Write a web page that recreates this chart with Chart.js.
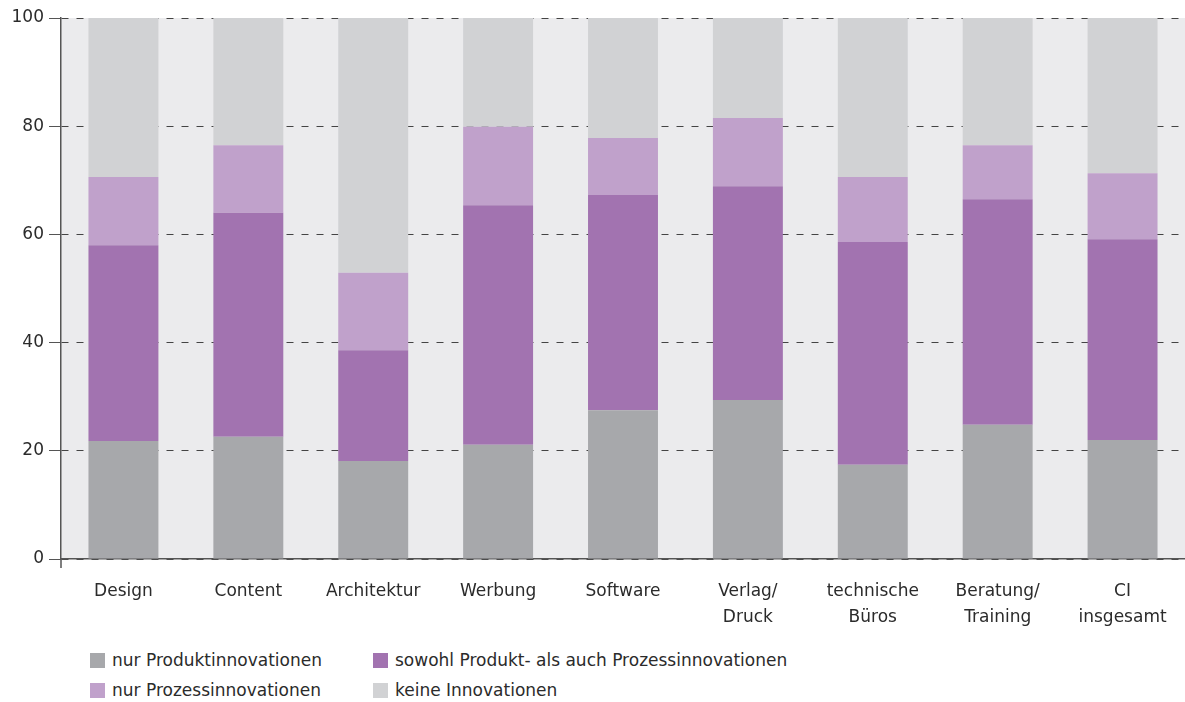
<!DOCTYPE html>
<html>
<head>
<meta charset="utf-8">
<script src="https://cdn.jsdelivr.net/npm/chart.js@4"></script>
<style>
  body { margin:0; background:#fff; font-family:"DejaVu Sans", sans-serif; }
  #wrap { position:relative; width:1185px; height:702px; }
  #chartBox { position:absolute; left:0; top:0; width:1185px; height:640px; }
  .legend { position:absolute; font-size:17px; color:#2b2b2b; display:flex; align-items:center; white-space:nowrap; }
  .legend i { display:inline-block; width:15px; height:15px; margin-right:7px; }
</style>
</head>
<body>
<div id="wrap">
  <div id="chartBox"><canvas id="innoChart"></canvas></div>
  <div id="legendBox"></div>
</div>
<script>
// ============ DATA ============
const categories = [['Design'], ['Content'], ['Architektur'], ['Werbung'], ['Software'], ['Verlag/', 'Druck'], ['technische', 'Büros'], ['Beratung/', 'Training'], ['CI', 'insgesamt']];
const seriesNames = ['nur Produktinnovationen', 'sowohl Produkt- als auch Prozessinnovationen', 'nur Prozessinnovationen', 'keine Innovationen'];
const nurProdukt = [21.8, 22.6, 18.1, 21.1, 27.5, 29.4, 17.4, 24.8, 22.0];
const sowohl     = [36.2, 41.4, 20.5, 44.3, 39.8, 39.5, 41.2, 41.7, 37.1];
const nurProzess = [12.6, 12.5, 14.3, 14.5, 10.5, 12.6, 12.0, 10.0, 12.2];
const keine      = [29.4, 23.5, 47.1, 20.1, 22.2, 18.5, 29.4, 23.5, 28.7];
const yTicks = [0, 20, 40, 60, 80, 100];

const colors = ['#a7a8ab', '#a273b0', '#c0a1cb', '#d1d2d4'];
const legendPos = [[90, 661], [373, 661], [90, 691], [373, 691]];
const FONT = '"DejaVu Sans", sans-serif';

// plot background + small axis stub under the y axis
const plotBg = {
  id:'plotBg',
  beforeDraw(chart) {
    const {ctx, chartArea:a} = chart;
    ctx.save();
    ctx.fillStyle = '#ebebed';
    ctx.fillRect(a.left, a.top, chart.width - a.left, a.bottom - a.top);
    ctx.restore();
  },
  afterDraw(chart) {
    const {ctx, chartArea:a} = chart;
    ctx.save();
    ctx.strokeStyle = '#555'; ctx.lineWidth = 1.5;
    ctx.beginPath(); ctx.moveTo(a.left, a.bottom); ctx.lineTo(a.left, a.bottom + 9); ctx.stroke();
    ctx.restore();
  }
};

const ds = [nurProdukt, sowohl, nurProzess, keine].map((d, i) => ({
  label: seriesNames[i], data: d, backgroundColor: colors[i], borderWidth: 0,
  barPercentage: 0.56, categoryPercentage: 1
}));

new Chart(document.getElementById('innoChart'), {
  type:'bar',
  data:{ labels:categories, datasets:ds },
  plugins:[plotBg],
  options:{
    responsive:true, maintainAspectRatio:false, animation:false,
    layout:{ padding:{ top:18, right:0, left:0, bottom:0 } },
    plugins:{ legend:{display:false}, tooltip:{enabled:false} },
    scales:{
      x:{
        stacked:true,
        afterFit:s => { s.height = 81; },
        grid:{ display:false },
        border:{ display:true, color:'#555', width:1.5 },
        ticks:{ color:'#2b2b2b', font:{ family:FONT, size:17, lineHeight:1.5 }, padding:12, maxRotation:0, autoSkip:false }
      },
      y:{
        stacked:true, min:0, max:100,
        afterFit:s => { s.width = 61; },
        afterBuildTicks:s => { s.ticks = yTicks.map(v => ({ value:v })); },
        grid:{ color:'#444', lineWidth:1, tickLength:12, tickColor:'#555', tickBorderDash:[], drawTicks:true },
        border:{ display:true, color:'#555', width:1.5, dash:[7, 8] },
        ticks:{ color:'#2b2b2b', font:{ family:FONT, size:17 }, padding:5 }
      }
    }
  }
});

// ============ LEGEND ============
document.getElementById('legendBox').innerHTML = seriesNames.map((n, i) =>
  `<div class="legend" style="left:${legendPos[i][0]}px;top:${legendPos[i][1] - 11}px"><i style="background:${colors[i]}"></i>${n}</div>`
).join('');
</script>
</body>
</html>
